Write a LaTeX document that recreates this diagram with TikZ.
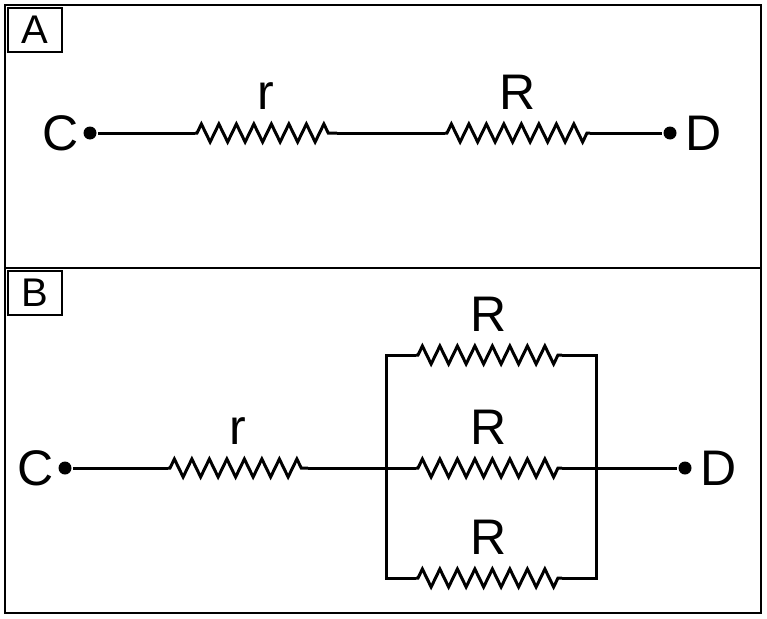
\documentclass[tikz,border=0pt]{standalone}
\usepackage{fontspec}
\setmainfont{Liberation Sans}
\usetikzlibrary{positioning,decorations.pathmorphing}
\tikzset{res/.style={decorate,decoration={zigzag,segment length=17.5pt,amplitude=9pt,pre length=2pt,post length=2pt}},
  lbl/.style={font=\fontsize{50}{50}\selectfont,inner sep=0pt},
  tag/.style={draw,line width=2pt,font=\fontsize{40}{40}\selectfont,minimum width=54pt,minimum height=44pt,inner sep=0pt,anchor=north west},
  dot/.style={circle,fill,inner sep=0pt,minimum size=13pt}}
\begin{document}
\begin{tikzpicture}[x=1pt,y=-1pt,line width=3pt]
\useasboundingbox (0,0) rectangle (767,618);
\draw[line width=2.5pt] (5,5) rectangle (761,613);
\draw[line width=2.5pt] (5,268) -- (761,268);
\node[tag] (tA) at (7,7) {A};
\node[tag] (tB) at (7,270) {B};
% panel A
\node[dot] (c1) at (90,133) {};
\node[dot] (d1) at (670,133) {};
\node[lbl,left=2pt of c1] {C};
\node[lbl,right=6pt of d1] {D};
\coordinate (r1a) at (195,133); \coordinate (r1b) at (337,133);
\coordinate (R1a) at (445,133); \coordinate (R1b) at (590,133);
\draw (c1) -- (r1a);
\draw[res] (r1a) -- node[lbl,above=22pt] {r} (r1b);
\draw (r1b) -- (R1a);
\draw[res] (R1a) -- node[lbl,above=22pt] {R} (R1b);
\draw (R1b) -- (d1);
% panel B
\node[dot] (c2) at (65,468) {};
\node[dot] (d2) at (685,468) {};
\node[lbl,left=2pt of c2] {C};
\node[lbl,right=6pt of d2] {D};
\coordinate (r2a) at (168,468); \coordinate (r2b) at (308,468);
\draw (c2) -- (r2a);
\draw[res] (r2a) -- node[lbl,above=22pt] {r} (r2b);
\draw (r2b) -- (416,468);
\foreach \y/\n in {355/top,468/mid,578/bot}{
  \coordinate (\n a) at (416,\y); \coordinate (\n b) at (562,\y);
  \draw[res] (\n a) -- node[lbl,above=22pt] {R} (\n b);
}
\draw (topa) -- (386,355) -- (386,578) -- (bota);
\draw (topb) -- (596,355) -- (596,578) -- (botb);
\draw (midb) -- (d2);
\end{tikzpicture}
\end{document}
